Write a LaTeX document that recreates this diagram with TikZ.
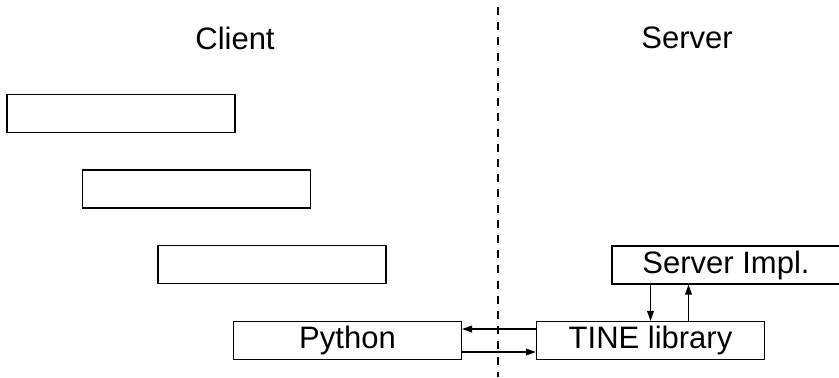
\documentclass[tikz,border=0pt]{standalone}
\usepackage{fontspec}
\setmainfont{Liberation Sans}
\usetikzlibrary{arrows.meta}
\begin{document}
\begin{tikzpicture}[x=0.5pt,y=-0.5pt,
  box/.style={draw=black,line width=0.6pt,minimum width=114pt,minimum height=19pt,inner sep=0pt,
    font=\fontsize{15.5}{18}\selectfont,text height=11.3pt,text depth=3.3pt,fill=white},
  title/.style={font=\fontsize{15.5}{18}\selectfont},
  arr/.style={line width=0.6pt,-{Triangle[length=5pt,width=3.4pt]}},
  divider/.style={line width=0.6pt,dash pattern=on 4pt off 3.6pt}]
\useasboundingbox (0,0) rectangle (839,377);
\coordinate (dtop) at (498,7);
\coordinate (dbot) at (498,377);
\draw[divider] (dtop) -- (dbot);
\node[title] (client) at (235,38) {Client};
\node[title] (server) at (687,38) {Server};
\node[box] (b1) at (121,113.5) {};
\node[box] (b2) at (196.5,189) {};
\node[box] (b3) at (272,264.5) {};
\node[box] (python) at (347.5,340.5) {Python};
\node[box] (tine) at (650.5,340.5) {TINE library};
\node[box] (simpl) at (726,265) {Server Impl.};
\draw[arr] ([yshift=5.75pt]tine.west) -- ([yshift=5.75pt]python.east);
\draw[arr] ([yshift=-5.75pt]python.east) -- ([yshift=-5.75pt]tine.west);
\draw[arr] (simpl.south -| tine.north) -- (tine.north);
\draw[arr] ([xshift=19pt]tine.north) -- ([xshift=19pt]tine.north |- simpl.south);
\end{tikzpicture}
\end{document}
